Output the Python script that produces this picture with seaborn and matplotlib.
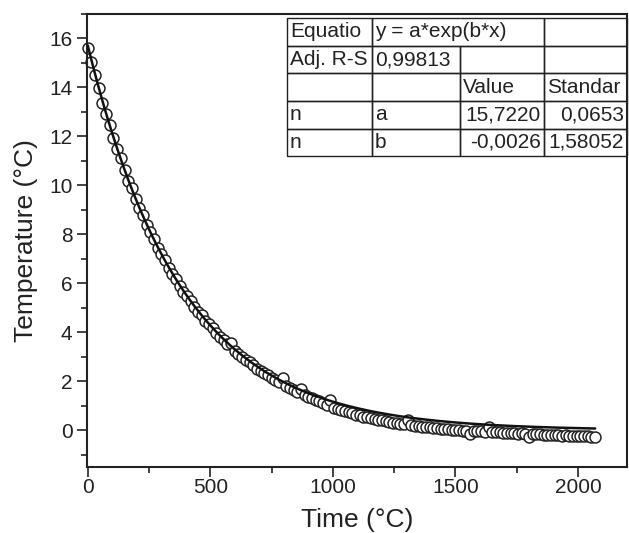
import numpy as np
import pandas as pd
import seaborn as sns
import matplotlib.pyplot as plt
from matplotlib.ticker import MultipleLocator

# 측정 데이터 (시간, 온도)
time_s = [0, 15, 30, 45, 60, 75, 90, 105, 120, 135, 150, 165, 180, 195, 210,
          225, 240, 255, 270, 285, 300, 315, 330, 345, 360, 375, 390, 405, 420,
          435, 450, 465, 480, 495, 510, 525, 540, 555, 570, 585, 600, 615, 630,
          645, 660, 675, 690, 705, 720, 735, 750, 765, 780, 795, 810, 825, 840,
          855, 870, 885, 900, 915, 930, 945, 960, 975, 990, 1005, 1020, 1035,
          1050, 1065, 1080, 1095, 1110, 1125, 1140, 1155, 1170, 1185, 1200,
          1215, 1230, 1245, 1260, 1275, 1290, 1305, 1320, 1335, 1350, 1365,
          1380, 1395, 1410, 1425, 1440, 1455, 1470, 1485, 1500, 1515, 1530,
          1545, 1560, 1575, 1590, 1605, 1620, 1635, 1650, 1665, 1680, 1695,
          1710, 1725, 1740, 1755, 1770, 1785, 1800, 1815, 1830, 1845, 1860,
          1875, 1890, 1905, 1920, 1935, 1950, 1965, 1980, 1995, 2010, 2025,
          2040, 2055, 2070]
temperature = [15.62, 15.05, 14.49, 13.98, 13.38, 12.90, 12.47, 11.92, 11.48,
               11.10, 10.61, 10.20, 9.88, 9.43, 9.09, 8.79, 8.40, 8.08, 7.81,
               7.46, 7.18, 6.95, 6.64, 6.38, 6.19, 5.90, 5.66, 5.47, 5.29,
               5.03, 4.85, 4.70, 4.47, 4.32, 4.16, 3.99, 3.82, 3.69, 3.52,
               3.58, 3.24, 3.12, 3.00, 2.86, 2.77, 2.65, 2.52, 2.43, 2.33,
               2.25, 2.13, 2.05, 1.97, 2.15, 1.80, 1.72, 1.66, 1.58, 1.70,
               1.44, 1.37, 1.32, 1.25, 1.19, 1.12, 1.05, 1.24, 0.92, 0.87,
               0.84, 0.77, 0.74, 0.70, 0.64, 0.61, 0.56, 0.53, 0.50, 0.46,
               0.43, 0.41, 0.36, 0.34, 0.31, 0.29, 0.27, 0.24, 0.40, 0.20,
               0.18, 0.16, 0.15, 0.13, 0.12, 0.10, 0.09, 0.07, 0.06, 0.04,
               0.03, 0.02, 0.00, -0.01, -0.02, -0.15, -0.04, -0.03, -0.05,
               -0.07, 0.14, -0.08, -0.09, -0.08, -0.11, -0.12, -0.11, -0.13,
               -0.14, -0.13, -0.15, -0.27, -0.16, -0.17, -0.16, -0.18, -0.19,
               -0.18, -0.20, -0.21, -0.24, -0.20, -0.22, -0.23, -0.22, -0.24,
               -0.25, -0.24, -0.26, -0.27]

# 피팅 결과 (표)
a_fit = 15.7220
b_fit = -0.0026
table_rows = [["Equatio", "y = a*exp(b*x)", "", ""],
              ["Adj. R-S", "0,99813", "", ""],
              ["", "", "Value", "Standar"],
              ["n", "a", "15,7220", "0,0653"],
              ["n", "b", "-0,0026", "1,58052"]]

df = pd.DataFrame({"time": time_s, "temp": temperature})
fit_x = np.linspace(0, max(time_s), 300)
fit_df = pd.DataFrame({"time": fit_x, "temp": a_fit * np.exp(b_fit * fit_x)})

sns.set_style("ticks")
plt.rcParams["font.family"] = ["Liberation Sans", "DejaVu Sans"]

fig = plt.figure(figsize=(6.29, 5.33), dpi=100)
ax = fig.add_axes([87 / 629, 1 - 467 / 533, 540 / 629, 453 / 533])

sns.scatterplot(data=df, x="time", y="temp", ax=ax, marker="o", s=62,
                facecolor="white", edgecolor="#222222", linewidth=1.1,
                zorder=2, clip_on=False)
sns.lineplot(data=fit_df, x="time", y="temp", ax=ax, color="#111111",
             linewidth=1.8, zorder=3)

ax.set_xlim(-3, 2200)
ax.set_ylim(-1.5, 17)
ax.xaxis.set_major_locator(MultipleLocator(500))
ax.xaxis.set_minor_locator(MultipleLocator(250))
ax.yaxis.set_major_locator(MultipleLocator(2))
ax.yaxis.set_minor_locator(MultipleLocator(1))
ax.tick_params(which="major", length=7, width=1.2, labelsize=15,
               direction="out", color="#222222", labelcolor="#222222")
ax.tick_params(axis="x", which="major", pad=1)
ax.tick_params(which="minor", length=4, width=1.2, direction="out",
               color="#222222")
for sp in ax.spines.values():
    sp.set_linewidth(1.5)
    sp.set_color("#222222")

ax.set_xlabel("Time (°C)", fontsize=19, color="#222222", labelpad=8)
ax.set_ylabel("Temperature (°C)", fontsize=19, color="#222222", labelpad=8)

# 피팅 결과 표
tbl = ax.table(cellText=table_rows, bbox=[0.37, 0.686, 0.63, 0.305],
               colWidths=[0.25, 0.26, 0.245, 0.245], zorder=5)
tbl.auto_set_font_size(False)
tbl.set_fontsize(15)
for (r, c), cell in tbl.get_celld().items():
    cell.set_linewidth(1.0)
    cell.set_edgecolor("#222222")
    cell.set_facecolor("none")
    cell.PAD = 0.035
    cell.get_text().set_clip_on(False)
    if r >= 3 and c >= 2:
        cell.set_text_props(ha="right", color="#222222")
        cell._loc = "right"
    else:
        cell.set_text_props(ha="left", color="#222222")
        cell._loc = "left"
# 첫 줄의 수식 칸은 두 칸을 합친 모양
tbl[0, 1].visible_edges = "BTL"
tbl[0, 2].visible_edges = "BTR"

fig.savefig("out.png", dpi=100)
plt.close()
